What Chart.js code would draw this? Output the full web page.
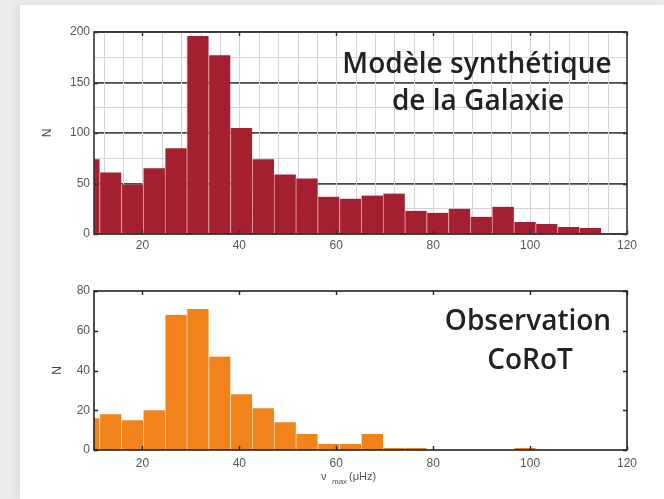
<!DOCTYPE html>
<html><head><meta charset="utf-8">
<script src="https://cdn.jsdelivr.net/npm/chart.js@4.4.1/dist/chart.umd.min.js"></script>
<style>
html,body{margin:0;padding:0;background:#ececec;width:664px;height:499px;overflow:hidden}
#panel{position:absolute;left:20px;top:5px;width:644px;height:494px;background:#fff;box-shadow:-4px 0 8px rgba(0,0,0,0.07)}
canvas{position:absolute;left:0}
#c1{top:0}
#c2{top:262px}
</style></head><body>
<div id="panel"></div>
<canvas id="c1" width="664" height="262"></canvas>
<canvas id="c2" width="664" height="237"></canvas>
<script>
// bin centres (µHz), width 4.5 µHz
const binCenters = [8.9, 13.4, 17.9, 22.4, 26.9, 31.4, 35.9, 40.4, 44.9, 49.4, 53.9, 58.4, 62.9, 67.4, 71.9, 76.4, 80.9, 85.4, 89.9, 94.4, 98.9, 103.4, 107.9, 112.4];
// synthetic galaxy model counts
const modelCounts = [74, 61, 49, 65, 85, 196, 177, 105, 74, 59, 55, 37, 35, 38, 40, 23, 21, 25, 17, 27, 12, 10, 7, 6];
// CoRoT observation counts
const corotCounts = [16, 18, 15, 20, 68, 71, 47, 28, 21, 14, 8, 3, 3, 8, 1, 1, 0, 0, 0, 0, 1, 0, 0, 0];
const xTickLabels = [20, 40, 60, 80, 100, 120];
const xMinorGrid = [12, 16, 20, 24, 28, 32, 36, 40, 44, 48, 52, 56, 60, 64, 68, 72, 76, 80, 84, 88, 92, 96, 100, 104, 108, 112, 116];
const yTicksModel = [0, 25, 50, 75, 100, 125, 150, 175, 200];
const yLabelsModel = [0, 50, 100, 150, 200];
const yTicksCorot = [0, 20, 40, 60, 80];

const FONT = 'Arial, "Liberation Sans", sans-serif';
const tickFont = {family: FONT, size: 12};
const tickColor = '#555';

// light vertical minor grid (drawn through the x scale, under the bars)
const minorGridPlugin = {
  id: 'minorGrid',
  beforeDatasetsDraw(chart) {
    const {ctx, chartArea: a, scales: {x}} = chart;
    ctx.save();
    ctx.strokeStyle = '#d4d4d4';
    ctx.lineWidth = 1;
    ctx.beginPath();
    xMinorGrid.forEach(v => {
      const p = Math.round(x.getPixelForValue(v)) + 0.5;
      ctx.moveTo(p, a.top); ctx.lineTo(p, a.bottom);
    });
    ctx.stroke();
    ctx.restore();
  }
};

function decorPlugin(id, yMajor, frameColor, texts) {
  return {
    id,
    afterDatasetsDraw(chart) {
      const {ctx, chartArea: a, scales: {x, y}} = chart;
      ctx.save();
      ctx.strokeStyle = frameColor;
      ctx.lineWidth = 1.4;
      ctx.beginPath();
      xTickLabels.forEach(v => {
        const p = Math.round(x.getPixelForValue(v)) + 0.5;
        ctx.moveTo(p, a.top); ctx.lineTo(p, a.top + 4);
        ctx.moveTo(p, a.bottom); ctx.lineTo(p, a.bottom - 4);
      });
      yMajor.forEach(v => {
        const p = Math.round(y.getPixelForValue(v)) + 0.5;
        ctx.moveTo(a.left, p); ctx.lineTo(a.left + 4, p);
        ctx.moveTo(a.right, p); ctx.lineTo(a.right - 4, p);
      });
      ctx.stroke();
      ctx.lineWidth = 1.6;
      ctx.strokeRect(a.left, a.top, a.right - a.left, a.bottom - a.top);
      texts.forEach(t => {
        ctx.fillStyle = t.color || '#222';
        ctx.font = t.font;
        ctx.textAlign = t.align || 'center';
        ctx.textBaseline = 'alphabetic';
        ctx.fillText(t.text, t.x, t.y);
      });
      ctx.restore();
    }
  };
}

const annFont = '600 28px "Open Sans", "Noto Sans", sans-serif';

new Chart(document.getElementById('c1'), {
  type: 'bar',
  data: { datasets: [{
    data: binCenters.map((c, i) => ({x: c, y: modelCounts[i]})),
    backgroundColor: '#A41F2F',
    borderColor: 'rgba(225,140,150,0.75)',
    borderWidth: {left: 1, right: 0, top: 0, bottom: 0},
    borderSkipped: false,
    categoryPercentage: 1, barPercentage: 1,
    clip: 0
  }]},
  options: {
    responsive: false, animation: false, devicePixelRatio: 1,
    layout: {padding: {left: 40, right: 37, top: 32, bottom: 8}},
    plugins: {legend: {display: false}, tooltip: {enabled: false}},
    scales: {
      x: {
        type: 'linear', min: 10, max: 120, offset: false,
        afterBuildTicks: s => { s.ticks = xTickLabels.map(v => ({value: v})); },
        afterFit: s => { s.height = 20; },
        ticks: {autoSkip: false, maxRotation: 0, padding: 4, font: tickFont, color: tickColor,
          callback: v => String(v)},
        grid: {display: false, drawTicks: false},
        border: {display: false}
      },
      y: {
        min: 0, max: 200,
        afterBuildTicks: s => { s.ticks = yTicksModel.map(v => ({value: v})); },
        afterFit: s => { s.width = 54; },
        ticks: {autoSkip: false, padding: 4, font: tickFont, color: tickColor,
          callback: v => yLabelsModel.includes(v) ? String(v) : ''},
        grid: {drawTicks: false,
          color: c => (c.tick && yLabelsModel.includes(c.tick.value)) ? '#4a4a4a' : '#d4d4d4',
          lineWidth: c => (c.tick && yLabelsModel.includes(c.tick.value)) ? 1.8 : 1},
        border: {display: false},
        title: {display: true, text: 'N', font: {family: FONT, size: 12}, color: '#444', padding: 0}
      }
    }
  },
  plugins: [minorGridPlugin, decorPlugin('decor1', yLabelsModel, '#333', [
    {text: 'Modèle synthétique', x: 477, y: 73, font: annFont},
    {text: 'de la Galaxie', x: 478, y: 110, font: annFont}
  ])]
});

new Chart(document.getElementById('c2'), {
  type: 'bar',
  data: { datasets: [{
    data: binCenters.map((c, i) => ({x: c, y: corotCounts[i]})),
    backgroundColor: '#F2821A',
    borderColor: 'rgba(255,200,140,0.7)',
    borderWidth: {left: 1, right: 0, top: 0, bottom: 0},
    borderSkipped: false,
    categoryPercentage: 1, barPercentage: 1,
    clip: 0
  }]},
  options: {
    responsive: false, animation: false, devicePixelRatio: 1,
    layout: {padding: {left: 50, right: 37, top: 29, bottom: 29}},
    plugins: {legend: {display: false}, tooltip: {enabled: false}},
    scales: {
      x: {
        type: 'linear', min: 10, max: 120, offset: false,
        afterBuildTicks: s => { s.ticks = xTickLabels.map(v => ({value: v})); },
        afterFit: s => { s.height = 20; },
        ticks: {autoSkip: false, maxRotation: 0, padding: 6, font: tickFont, color: tickColor,
          callback: v => String(v)},
        grid: {display: false, drawTicks: false},
        border: {display: false}
      },
      y: {
        min: 0, max: 80,
        afterBuildTicks: s => { s.ticks = yTicksCorot.map(v => ({value: v})); },
        afterFit: s => { s.width = 44; },
        ticks: {autoSkip: false, padding: 4, font: tickFont, color: tickColor,
          callback: v => String(v)},
        grid: {display: false, drawTicks: false},
        border: {display: false},
        title: {display: true, text: 'N', font: {family: FONT, size: 12}, color: '#444', padding: 0}
      }
    }
  },
  plugins: [decorPlugin('decor2', yTicksCorot, '#222', [
    {text: 'Observation', x: 528, y: 68, font: annFont},
    {text: 'CoRoT', x: 530, y: 107, font: annFont},
    {text: 'ν', x: 321, y: 218, font: '11px ' + FONT, color: '#555', align: 'left'},
    {text: 'max', x: 332, y: 222, font: '8px ' + FONT, color: '#555', align: 'left'},
    {text: '(μHz)', x: 349, y: 218, font: '11px ' + FONT, color: '#555', align: 'left'}
  ])]
});
</script>
</body></html>
